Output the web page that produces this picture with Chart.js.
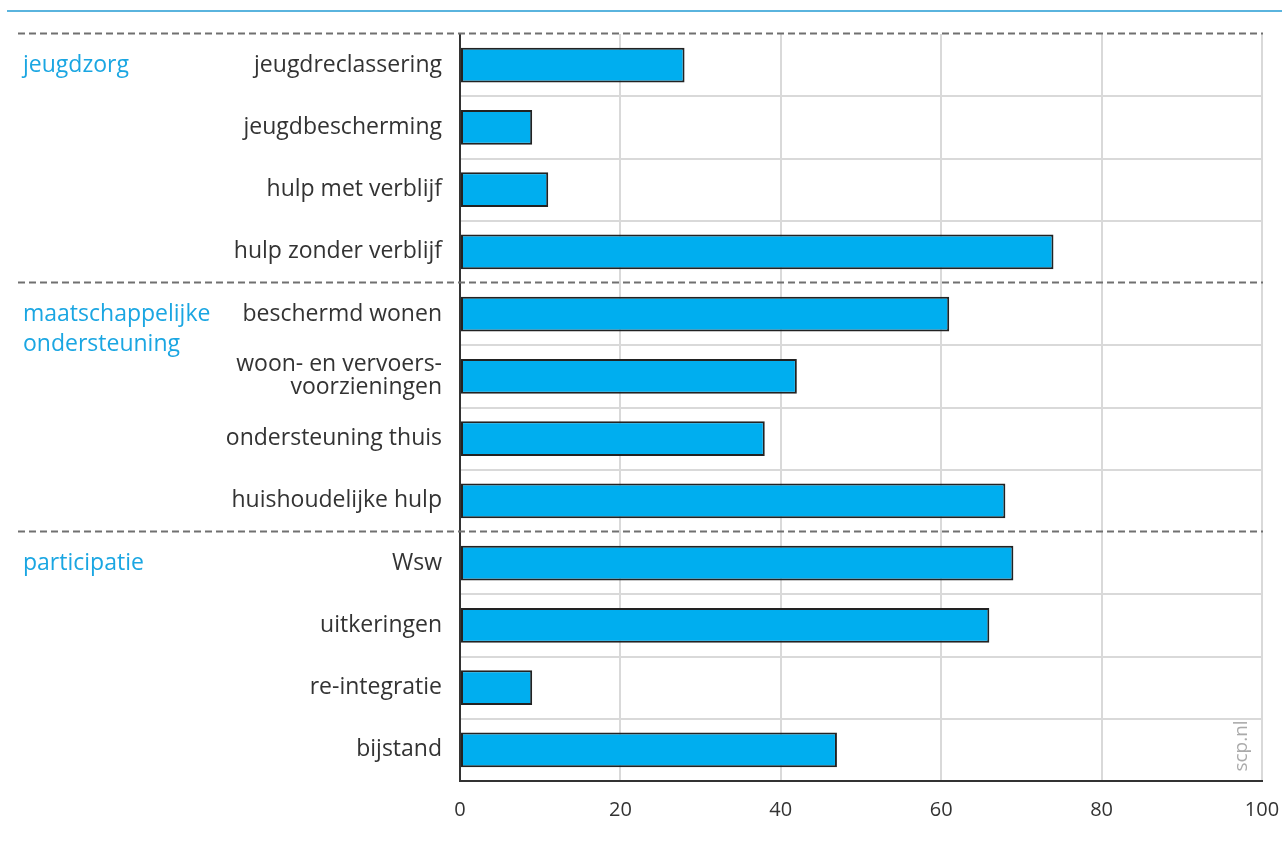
<!DOCTYPE html>
<html><head><meta charset="utf-8">
<script src="https://cdn.jsdelivr.net/npm/chart.js@4/dist/chart.umd.min.js"></script>
<style>html,body{margin:0;padding:0;background:#fff;}#wrap{position:relative;width:1282px;height:843px;}</style>
</head><body><div id="wrap"><canvas id="c" width="1282" height="843"></canvas></div>
<script>
const categories = [
  'jeugdreclassering', 'jeugdbescherming', 'hulp met verblijf', 'hulp zonder verblijf',
  'beschermd wonen', ['woon- en vervoers-', 'voorzieningen'], 'ondersteuning thuis', 'huishoudelijke hulp',
  'Wsw', 'uitkeringen', 're-integratie', 'bijstand'
];
const values = [28, 9, 11, 74, 61, 42, 38, 68, 69, 66, 9, 47];
const groupLabels = [['jeugdzorg'], ['maatschappelijke', 'ondersteuning'], ['participatie']];
const groupStarts = [0, 4, 8];
const xTicks = [0, 20, 40, 60, 80, 100];
const sourceText = 'scp.nl';

const FONT = '"Open Sans", "Noto Sans", sans-serif';
const TEXT = '#333333';
const BLUE_TEXT = '#1aa6e2';

const overlay = {
  id: 'overlay',
  afterDraw(chart) {
    const ctx = chart.ctx;
    const y = chart.scales.y;
    const area = chart.chartArea;
    ctx.save();
    ctx.strokeStyle = '#5ab4de';
    ctx.lineWidth = 2;
    ctx.beginPath();
    ctx.moveTo(7, 11);
    ctx.lineTo(1282, 11);
    ctx.stroke();
    ctx.strokeStyle = '#707070';
    ctx.setLineDash([7, 4]);
    groupStarts.forEach(s => {
      const py = Math.round(y.getPixelForValue(s - 0.5)) + 0.5 - 1;
      ctx.beginPath();
      ctx.moveTo(18, py);
      ctx.lineTo(area.right + 1, py);
      ctx.stroke();
    });
    ctx.setLineDash([]);
    ctx.fillStyle = BLUE_TEXT;
    ctx.font = '23px ' + FONT;
    ctx.textAlign = 'left';
    ctx.textBaseline = 'middle';
    groupStarts.forEach((s, gi) => {
      const cy = y.getPixelForValue(s);
      groupLabels[gi].forEach((line, li) => {
        ctx.fillText(line, 23, cy + li * 30);
      });
    });
    ctx.translate(1242, 746);
    ctx.rotate(-Math.PI / 2);
    ctx.fillStyle = '#aaaaaa';
    ctx.font = '19px ' + FONT;
    ctx.textAlign = 'center';
    ctx.fillText(sourceText, 0, 0);
    ctx.restore();
  }
};

new Chart(document.getElementById('c'), {
  type: 'bar',
  data: {
    labels: categories,
    datasets: [{
      data: values,
      backgroundColor: '#00aeef',
      borderColor: '#222222',
      borderWidth: 2,
      borderSkipped: false,
      categoryPercentage: 1,
      barPercentage: 0.56
    }]
  },
  options: {
    indexAxis: 'y',
    responsive: false,
    animation: false,
    devicePixelRatio: 1,
    layout: { padding: { top: 34, right: 20, left: 0, bottom: 0 } },
    plugins: { legend: { display: false }, tooltip: { enabled: false } },
    scales: {
      x: {
        type: 'linear',
        min: 0, max: 100,
        afterBuildTicks: s => { s.ticks = xTicks.map(v => ({ value: v })); },
        afterFit: s => { s.height = 62; s.paddingRight = 0; s.paddingLeft = 0; },
        ticks: { color: TEXT, font: { family: FONT, size: 20 }, padding: 17 },
        grid: { color: '#d9d9d9', lineWidth: 2, drawTicks: false },
        border: { color: '#333333', width: 2 }
      },
      y: {
        type: 'category',
        afterFit: s => { s.width = 460; s.paddingTop = 0; s.paddingBottom = 0; },
        ticks: { color: TEXT, font: { family: FONT, size: 23, lineHeight: 1.0 }, padding: 18, autoSkip: false },
        grid: {
          offset: true,
          drawTicks: false,
          lineWidth: 2,
          color: c => ([0, 4, 8, 12].includes(c.index) ? 'rgba(0,0,0,0)' : '#d9d9d9')
        },
        border: { color: '#333333', width: 2 }
      }
    }
  },
  plugins: [overlay]
});
</script>
</body></html>
